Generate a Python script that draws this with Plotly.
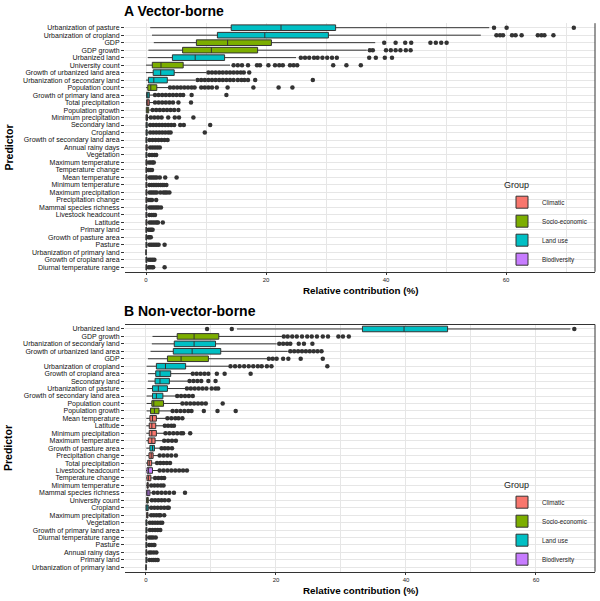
import plotly.graph_objects as go

# ---- panel A: vector-borne ----
pred_a = [
    "Urbanization of pasture", "Urbanization of cropland", "GDP", "GDP growth",
    "Urbanized land", "University count", "Growth of urbanized land area",
    "Urbanization of secondary land", "Population count", "Growth of primary land area",
    "Total precipitation", "Population growth", "Minimum precipitation", "Secondary land",
    "Cropland", "Growth of secondary land area", "Annual rainy days", "Vegetation",
    "Maximum temperature", "Temperature change", "Mean temperature", "Minimum temperature",
    "Maximum precipitation", "Precipitation change", "Mammal species richness",
    "Livestock headcount", "Latitude", "Primary land", "Growth of pasture area", "Pasture",
    "Urbanization of primary land", "Growth of cropland area", "Diurnal temperature range",
]
lo_a = [0.7, 1.0, 1.3, 0.4, 0.3, 0.0, 0.0, 0.0, 0.0, 0.0, 0.0, 0.0, 0.0, 0.0, 0.0, 0.0, 0.0,
        0.0, 0.0, 0.0, 0.0, 0.0, 0.0, 0.0, 0.0, 0.0, 0.0, 0.0, 0.0, 0.0, 0.0, 0.0, 0.0]
q1_a = [14.2, 11.9, 8.4, 6.1, 4.4, 1.05, 1.2, 0.4, 0.3, 0.1, 0.1, 0.05, 0.0, 0.0, 0.0, 0.0, 0.0,
        0.0, 0.0, 0.0, 0.0, 0.0, 0.0, 0.0, 0.0, 0.0, 0.0, 0.0, 0.0, 0.0, 0.0, 0.0, 0.0]
med_a = [22.5, 19.8, 13.6, 10.9, 8.2, 2.5, 2.45, 1.3, 0.8, 0.3, 0.3, 0.2, 0.1, 0.1, 0.1, 0.05, 0.05,
         0.05, 0.05, 0.05, 0.05, 0.05, 0.05, 0.05, 0.05, 0.05, 0.05, 0.03, 0.03, 0.05, 0.0, 0.05, 0.05]
q3_a = [31.6, 30.4, 20.9, 18.6, 13.1, 6.2, 4.7, 3.55, 1.8, 0.55, 0.55, 0.45, 0.25, 0.2, 0.2, 0.15, 0.2,
        0.15, 0.15, 0.1, 0.15, 0.15, 0.15, 0.15, 0.15, 0.15, 0.15, 0.1, 0.1, 0.15, 0.02, 0.15, 0.1]
hi_a = [57.2, 55.8, 38.2, 36.8, 25.0, 14.0, 10.0, 8.2, 3.7, 1.2, 1.2, 0.95, 0.6, 0.5, 0.5, 0.4, 0.5,
        0.4, 0.35, 0.3, 0.4, 0.4, 0.4, 0.3, 0.4, 0.4, 0.4, 0.3, 0.25, 0.4, 0.05, 0.35, 0.3]
out_a = [
    [58.0, 60.1, 71.3],
    [58.4, 59.0, 59.5, 61.0, 61.6, 62.6, 65.3, 65.9, 66.4, 67.9],
    [39.7, 41.6, 43.2, 44.2, 47.4, 48.3, 49.2, 50.1],
    [37.3, 37.8, 40.0, 40.8, 41.6, 42.4, 43.3, 44.1],
    [25.8, 26.5, 27.2, 28.0, 28.6, 29.4, 30.2, 31.0, 31.8, 37.2, 38.3, 39.8, 41.0],
    [14.6, 15.3, 16.0, 17.0, 18.5, 19.0, 20.4, 21.5, 22.2, 22.8, 24.0, 24.6, 25.2, 31.2, 33.4, 35.8],
    [10.4, 11.0, 11.6, 12.2, 12.8, 13.4, 14.0, 14.6, 15.2, 15.8, 16.3, 17.2],
    [8.6, 9.2, 9.8, 10.4, 11.0, 11.6, 12.2, 12.8, 13.4, 14.0, 14.6, 15.3, 15.9, 16.4, 17.0, 18.2, 27.8],
    [4.0, 4.6, 5.2, 5.8, 6.4, 7.0, 7.6, 8.1, 9.2, 9.8, 10.4, 11.0, 11.8, 13.6, 17.9, 22.1, 24.4],
    [1.5, 2.1, 2.7, 3.3, 3.9, 4.5, 5.1, 5.7, 6.2, 7.6, 13.4],
    [1.5, 2.1, 2.7, 3.3, 3.9, 4.5, 5.4, 7.5],
    [1.1, 1.7, 2.3, 2.9, 3.5, 4.1, 4.7, 5.4],
    [0.8, 1.4, 2.0, 2.6, 3.7, 4.8, 5.5, 7.9],
    [0.7, 1.2, 1.7, 2.2, 2.7, 3.2, 3.7, 4.2, 4.7, 5.7, 6.3, 10.7],
    [0.7, 1.2, 1.7, 2.2, 2.7, 3.2, 3.7, 4.1, 9.8],
    [0.6, 1.1, 1.6, 2.1, 2.6, 3.1, 3.6],
    [0.7, 1.1, 1.5, 1.9, 2.3],
    [0.6, 1.0, 1.4, 1.7],
    [0.5, 0.8, 1.1, 1.3],
    [0.45, 0.7, 1.0],
    [0.6, 0.9, 1.2, 1.5, 1.8, 2.3, 3.2, 5.1],
    [0.6, 0.9, 1.2, 1.5, 1.8, 2.1, 2.4, 2.7, 3.0, 3.4],
    [0.6, 0.9, 1.2, 1.5, 1.8, 2.4, 2.9, 3.2, 3.5, 3.9],
    [0.5, 0.8, 1.0, 1.7],
    [0.6, 0.9, 1.2, 1.5, 1.8, 2.1, 2.5],
    [0.6, 0.9, 1.2, 1.5],
    [0.6, 0.9, 1.2, 1.5, 1.8, 2.0, 2.8],
    [0.45, 0.7, 0.9, 1.1],
    [0.4, 0.6, 0.8],
    [0.6, 0.9, 1.2, 1.5, 1.8, 2.1, 3.1],
    [],
    [0.5, 0.8, 1.1, 1.4],
    [0.45, 0.7, 1.0, 1.2, 3.1],
]

# ---- panel B: non-vector-borne ----
pred_b = [
    "Urbanized land", "GDP growth", "Urbanization of secondary land", "Growth of urbanized land area",
    "GDP", "Urbanization of cropland", "Growth of cropland area", "Secondary land",
    "Urbanization of pasture", "Growth of secondary land area", "Population count",
    "Population growth", "Mean temperature", "Latitude", "Minimum precipitation",
    "Maximum temperature", "Growth of pasture area", "Precipitation change", "Total precipitation",
    "Livestock headcount", "Temperature change", "Minimum temperature", "Mammal species richness",
    "University count", "Cropland", "Maximum precipitation", "Vegetation",
    "Growth of primary land area", "Diurnal temperature range", "Pasture", "Annual rainy days",
    "Primary land", "Urbanization of primary land",
]
lo_b = [14.0, 1.0, 0.9, 0.7, 0.3, 0.1, 0.3, 0.3, 0.2, 0.1, 0.1, 0.1, 0.05, 0.05, 0.05, 0.05, 0.05,
        0.05, 0.0, 0.0, 0.0, 0.0, 0.0, 0.0, 0.0, 0.0, 0.0, 0.0, 0.0, 0.0, 0.0, 0.0, 0.0]
q1_b = [33.3, 4.8, 4.35, 4.2, 3.3, 1.6, 1.5, 1.4, 1.0, 1.0, 0.9, 0.7, 0.6, 0.5, 0.5, 0.35, 0.6,
        0.46, 0.26, 0.15, 0.15, 0.15, 0.1, 0.1, 0.0, 0.1, 0.0, 0.0, 0.0, 0.0, 0.0, 0.0, 0.0]
med_b = [39.7, 7.4, 7.4, 7.1, 5.4, 3.0, 2.15, 2.15, 1.9, 1.6, 1.2, 1.3, 1.0, 0.9, 0.9, 0.9, 1.0,
         0.8, 0.5, 0.4, 0.4, 0.25, 0.3, 0.2, 0.1, 0.2, 0.05, 0.05, 0.05, 0.05, 0.05, 0.05, 0.0]
q3_b = [46.4, 11.2, 10.7, 11.5, 9.6, 6.1, 3.8, 3.6, 3.3, 2.6, 2.7, 2.0, 1.6, 1.5, 1.6, 1.4, 1.3,
        1.1, 0.87, 1.0, 0.75, 0.35, 0.6, 0.35, 0.35, 0.3, 0.15, 0.15, 0.12, 0.12, 0.12, 0.15, 0.02]
hi_b = [65.3, 20.9, 20.1, 21.8, 18.6, 12.7, 7.0, 6.5, 6.1, 4.6, 5.4, 3.9, 3.1, 2.7, 2.8, 2.6, 2.2,
        1.9, 1.5, 1.9, 1.2, 0.6, 1.0, 0.7, 0.6, 0.55, 0.4, 0.4, 0.3, 0.3, 0.3, 0.35, 0.05]
out_b = [
    [9.4, 13.2, 65.9],
    [21.2, 21.8, 22.5, 23.2, 24.0, 24.8, 25.5, 26.3, 27.2, 28.0, 29.6, 30.3, 31.2],
    [20.5, 21.1, 21.7, 22.2, 23.5, 24.3, 25.6],
    [22.2, 22.8, 23.4, 24.0, 24.6, 25.2, 25.8, 26.4, 27.0],
    [18.9, 19.5, 20.1, 21.1, 21.9, 23.8, 27.2],
    [13.0, 13.7, 14.4, 15.1, 15.8, 16.5, 17.2, 17.8, 18.6, 19.3, 27.9],
    [7.2, 7.8, 8.4, 9.0, 9.6, 10.9, 12.1, 16.1],
    [6.7, 7.3, 7.9, 8.5, 9.6, 10.7],
    [6.3, 6.9, 7.5, 8.1, 8.7, 9.3, 10.1, 10.7, 11.1],
    [4.8, 5.4, 6.0, 6.6, 7.2],
    [5.6, 6.2, 6.8, 7.4, 8.0, 8.6, 9.2, 11.8],
    [4.1, 4.7, 5.3, 5.9, 6.5, 7.0, 8.9, 11.0, 13.8],
    [3.3, 3.9, 4.5, 5.0, 5.6],
    [2.9, 3.4, 3.9, 4.3],
    [3.0, 3.6, 4.2, 4.8, 5.4, 5.7, 6.8],
    [2.8, 3.4, 4.0, 4.6],
    [2.4, 2.9, 3.4, 4.0],
    [2.1, 2.7, 3.3, 3.9, 4.6],
    [1.7, 2.2, 2.7, 3.2, 3.7],
    [2.1, 2.7, 3.3, 3.9, 4.5, 5.1, 5.7, 6.3],
    [1.4, 1.9, 2.4, 2.8],
    [0.8, 1.3, 1.8, 2.3, 2.7],
    [1.2, 1.8, 2.4, 3.0, 3.6, 4.3, 6.0],
    [0.9, 1.4, 1.9, 2.4, 2.9, 3.5],
    [0.8, 1.3, 1.8, 2.3, 2.8, 3.3, 3.5],
    [0.8, 1.2, 1.6, 2.0, 2.2, 2.8],
    [0.6, 1.0, 1.4, 1.8, 2.2, 2.5],
    [0.6, 1.0, 1.4, 1.8, 2.2],
    [0.5, 0.8, 1.1, 1.5],
    [0.5, 0.8, 1.1, 1.3],
    [0.5, 0.8, 1.2, 1.6],
    [0.55, 0.9, 1.2, 1.5, 1.8],
    [],
]

groups = ["Climatic", "Socio-economic", "Land use", "Biodiversity"]
group_of = {
    "Climatic": ["Total precipitation", "Minimum precipitation", "Annual rainy days",
                 "Maximum temperature", "Temperature change", "Mean temperature",
                 "Minimum temperature", "Maximum precipitation", "Precipitation change",
                 "Latitude", "Diurnal temperature range"],
    "Socio-economic": ["GDP", "GDP growth", "University count", "Population count",
                       "Population growth"],
    "Biodiversity": ["Mammal species richness", "Livestock headcount"],
}
colors = {"Climatic": "#F8766D", "Socio-economic": "#7CAE00",
          "Land use": "#00BFC4", "Biodiversity": "#C77CFF"}

FONT = "Liberation Sans, Arial, sans-serif"
LINE = "#333333"
GRID = "#E6E6E6"


def group_name(p):
    for g, members in group_of.items():
        if p in members:
            return g
    return "Land use"


def add_panel(fig, preds, lo, q1, med, q3, hi, outs, xa, ya, legend):
    for g in groups:
        idx = [i for i, p in enumerate(preds) if group_name(p) == g]
        fig.add_trace(go.Box(
            y=[preds[i] for i in idx],
            lowerfence=[lo[i] for i in idx], q1=[q1[i] for i in idx],
            median=[med[i] for i in idx], q3=[q3[i] for i in idx],
            upperfence=[hi[i] for i in idx],
            orientation="h", name=g, legend=legend, legendgroup=g,
            fillcolor=colors[g], line=dict(color=LINE, width=1),
            width=0.75, whiskerwidth=0, boxpoints=False,
            xaxis=xa, yaxis=ya, hoverinfo="skip",
        ))
    ox, oy = [], []
    for p, vals in zip(preds, outs):
        ox += vals
        oy += [p] * len(vals)
    fig.add_trace(go.Scatter(
        x=ox, y=oy, mode="markers", showlegend=False, xaxis=xa, yaxis=ya,
        marker=dict(size=4.5, color=LINE), hoverinfo="skip",
    ))


fig = go.Figure()
add_panel(fig, pred_a, lo_a, q1_a, med_a, q3_a, hi_a, out_a, "x", "y", "legend")
add_panel(fig, pred_b, lo_b, q1_b, med_b, q3_b, hi_b, out_b, "x2", "y2", "legend2")

W, H = 600, 601
xdom = [125 / W, 595 / W]
ydom_a = [1 - 271.8 / H, 1 - 23.2 / H]
ydom_b = [1 - 571.8 / H, 1 - 324.5 / H]

xaxis_common = dict(
    tickvals=[0, 20, 40, 60], ticks="outside", ticklen=2, tickcolor=LINE,
    tickfont=dict(family=FONT, size=6, color="#222"),
    showgrid=True, gridcolor=GRID, gridwidth=0.7,
    minor=dict(dtick=10, tick0=0, showgrid=True, gridcolor=GRID, gridwidth=0.7),
    zeroline=False, showline=True, linecolor=LINE, linewidth=1,
    domain=xdom, automargin=False,
)
yaxis_common = dict(
    type="category", ticks="outside", ticklen=3, tickcolor=LINE,
    tickfont=dict(family=FONT, size=7, color="#111"),
    showgrid=True, gridcolor=GRID, gridwidth=0.7, zeroline=False,
    showline=False, automargin=False, range=[-0.6, 32.6],
)

legend_common = dict(
    x=502 / W, xanchor="left", yanchor="top", bgcolor="rgba(0,0,0,0)",
    font=dict(family=FONT, size=6.3, color="#222"),
    title=dict(text="Group", font=dict(family=FONT, size=9, color="#222")),
    tracegroupgap=0,
)

fig.update_layout(
    width=W, height=H, margin=dict(l=0, r=0, t=0, b=0),
    paper_bgcolor="white", plot_bgcolor="white",
    boxmode="overlay",
    xaxis=dict(xaxis_common, range=[-3.5, 74.83], anchor="y"),
    yaxis=dict(yaxis_common, domain=ydom_a, anchor="x",
               categoryorder="array", categoryarray=pred_a[::-1],
               tickmode="array", tickvals=pred_a, ticktext=pred_a),
    xaxis2=dict(xaxis_common, range=[-3.23, 69.08], anchor="y2"),
    yaxis2=dict(yaxis_common, domain=ydom_b, anchor="x2",
                categoryorder="array", categoryarray=pred_b[::-1],
                tickmode="array", tickvals=pred_b, ticktext=pred_b),
    legend=dict(legend_common, y=1 - 176 / H),
    legend2=dict(legend_common, y=1 - 476 / H),
)

# right-hand frame line on both panels, top line on panel B
for xr, yr in [("x", "y"), ("x2", "y2")]:
    fig.add_shape(type="line", xref=f"{xr} domain", yref=f"{yr} domain",
                  x0=1, x1=1, y0=0, y1=1, line=dict(color=LINE, width=1))
fig.add_shape(type="line", xref="x2 domain", yref="y2 domain",
              x0=0, x1=1, y0=1, y1=1, line=dict(color=LINE, width=1))

ann = [
    dict(text="<b>A Vector-borne</b>", x=122 / W, y=1 - 11 / H, size=14, xanchor="left"),
    dict(text="<b>B Non-vector-borne</b>", x=122 / W, y=1 - 311 / H, size=14, xanchor="left"),
    dict(text="<b>Relative contribution (%)</b>", x=360 / W, y=1 - 290 / H, size=9.8, xanchor="center"),
    dict(text="<b>Relative contribution (%)</b>", x=360 / W, y=1 - 590 / H, size=9.8, xanchor="center"),
]
for a in ann:
    fig.add_annotation(text=a["text"], x=a["x"], y=a["y"], xref="paper", yref="paper",
                       xanchor=a["xanchor"], yanchor="middle", showarrow=False,
                       font=dict(family=FONT, size=a["size"], color="black"))
for yc in [147.5, 448]:
    fig.add_annotation(text="<b>Predictor</b>", x=8 / W, y=1 - yc / H, xref="paper", yref="paper",
                       xanchor="center", yanchor="middle", showarrow=False, textangle=-90,
                       font=dict(family=FONT, size=10.5, color="black"))

# page body has a default 8px margin; remove it so the figure sits at the window origin
fig.write_html("out.html", config={"displayModeBar": False},
               post_script="document.body.style.margin='0';")
